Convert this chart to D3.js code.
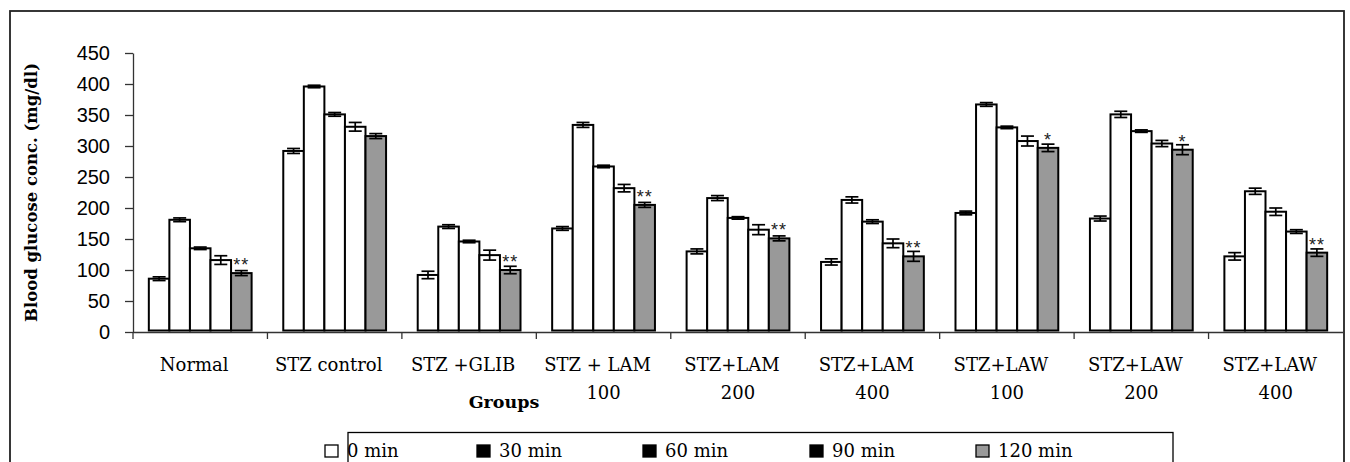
<!DOCTYPE html>
<html>
<head>
<meta charset="utf-8">
<script src="https://cdn.jsdelivr.net/npm/d3@7"></script>
<style>
  body { margin: 0; background: #fff; }
  svg { display: block; }
</style>
</head>
<body>
<script>
// data
const groups = [
  ["Normal"], ["STZ control"], ["STZ +GLIB"],
  ["STZ + LAM", "100"], ["STZ+LAM", "200"], ["STZ+LAM", "400"],
  ["STZ+LAW", "100"], ["STZ+LAW", "200"], ["STZ+LAW", "400"]
];
const series = ["0 min", "30 min", "60 min", "90 min", "120 min"];

const min0   = [86, 292, 92, 167, 130, 113, 192, 183, 122];
const min30  = [181, 396, 170, 334, 216, 213, 367, 351, 227];
const min60  = [135, 351, 146, 267, 184, 178, 330, 324, 194];
const min90  = [116, 331, 124, 232, 165, 143, 308, 304, 162];
const min120 = [95, 316, 100, 205, 151, 122, 297, 294, 128];

const err0   = [3, 4, 6, 3, 4, 5, 3, 4, 6];
const err30  = [3, 2, 3, 4, 4, 5, 3, 5, 5];
const err60  = [2, 3, 2, 2, 2, 3, 2, 2, 6];
const err90  = [7, 7, 8, 6, 8, 7, 8, 5, 3];
const err120 = [4, 4, 6, 4, 4, 8, 6, 8, 6];

const stars = ["**", "", "**", "**", "**", "**", "*", "*", "**"];
const yTicks = [0, 50, 100, 150, 200, 250, 300, 350, 400, 450];

const values = [min0, min30, min60, min90, min120];
const errors = [err0, err30, err60, err90, err120];
const fills = ["#ffffff", "#ffffff", "#ffffff", "#ffffff", "#999999"];
const legendFills = ["#ffffff", "#000000", "#000000", "#000000", "#999999"];

const width = 1350, height = 462;
const margin = { left: 133, right: 7, top: 53, bottom: 130 };

const svg = d3.select("body").append("svg")
  .attr("width", width)
  .attr("height", height);

// outer frame (runs off the bottom)
svg.append("rect")
  .attr("x", 10).attr("y", 11)
  .attr("width", 1334).attr("height", 470)
  .attr("fill", "none").attr("stroke", "#222").attr("stroke-width", 1.8);

const keys = groups.map(g => g.join(" "));
const x = d3.scaleBand()
  .domain(keys)
  .range([margin.left, width - margin.right]);

const xInner = d3.scaleBand()
  .domain(series)
  .range([0, x.bandwidth()])
  .paddingOuter(0.77);

const y = d3.scaleLinear()
  .domain([0, 450])
  .range([height - margin.bottom, margin.top]);

const y0 = y(0);

// bars
const table = [];
series.forEach((s, si) => {
  keys.forEach((k, gi) => {
    table.push({ s, si, k, gi, v: values[si][gi], e: errors[si][gi] });
  });
});

const bars = svg.append("g");
bars.selectAll("rect")
  .data(table)
  .join("rect")
  .attr("x", d => x(d.k) + xInner(d.s))
  .attr("width", xInner.bandwidth())
  .attr("y", d => y(d.v))
  .attr("height", d => y0 - 1.5 - y(d.v))
  .attr("fill", d => fills[d.si])
  .attr("stroke", "#000")
  .attr("stroke-width", 2);

// error bars
const eb = svg.append("g").attr("stroke", "#000").attr("stroke-width", 1.7);
const capW = 6.5;
table.forEach(d => {
  const cx = x(d.k) + xInner(d.s) + xInner.bandwidth() / 2;
  eb.append("line").attr("x1", cx).attr("x2", cx)
    .attr("y1", y(d.v + d.e)).attr("y2", y(d.v - d.e));
  eb.append("line").attr("x1", cx - capW).attr("x2", cx + capW)
    .attr("y1", y(d.v + d.e)).attr("y2", y(d.v + d.e));
  eb.append("line").attr("x1", cx - capW).attr("x2", cx + capW)
    .attr("y1", y(d.v - d.e)).attr("y2", y(d.v - d.e));
});

// significance stars above the 120 min bar
svg.append("g").selectAll("text")
  .data(keys)
  .join("text")
  .attr("x", (k, i) => x(k) + xInner("120 min") + xInner.bandwidth() / 2)
  .attr("y", (k, i) => y(min120[i]) - 2)
  .attr("text-anchor", "middle")
  .attr("font-family", "Liberation Sans, Arial, sans-serif")
  .attr("font-size", 18)
  .attr("letter-spacing", 1)
  .attr("fill", "#222")
  .text((k, i) => stars[i]);

// y axis
const yAxis = svg.append("g")
  .attr("transform", `translate(${margin.left},0)`)
  .call(d3.axisLeft(y).tickValues(yTicks).tickSize(8).tickPadding(15).tickSizeOuter(0));
yAxis.selectAll("path, line").attr("stroke", "#333").attr("stroke-width", 1.3);
yAxis.selectAll("text")
  .attr("font-family", "Liberation Sans, Arial, sans-serif")
  .attr("font-size", 20)
  .attr("fill", "#000");

// x axis line + boundary ticks
const xl = svg.append("g").attr("stroke", "#333").attr("stroke-width", 1.3);
xl.append("line")
  .attr("x1", margin.left).attr("x2", width - margin.right)
  .attr("y1", y0 + 0.5).attr("y2", y0 + 0.5);
keys.forEach(k => {
  xl.append("line")
    .attr("x1", x(k)).attr("x2", x(k))
    .attr("y1", y0).attr("y2", y0 + 7);
});

// category labels
const cat = svg.append("g")
  .attr("font-family", "DejaVu Serif, serif")
  .attr("font-size", 18)
  .attr("fill", "#000")
  .attr("text-anchor", "middle");
groups.forEach((g, i) => {
  const cx = x(keys[i]) + x.bandwidth() / 2;
  g.forEach((line, li) => {
    cat.append("text")
      .attr("x", cx + (li === 0 ? -6 : 0))
      .attr("y", 371 + li * 28)
      .text(line);
  });
});

// axis titles
svg.append("text")
  .attr("x", 504).attr("y", 408)
  .attr("text-anchor", "middle")
  .attr("font-family", "DejaVu Serif, serif")
  .attr("font-weight", "bold")
  .attr("font-size", 17.5)
  .text("Groups");

svg.append("text")
  .attr("transform", `translate(37,${(y(0) + y(450)) / 2}) rotate(-90)`)
  .attr("text-anchor", "middle")
  .attr("font-family", "DejaVu Serif, serif")
  .attr("font-weight", "bold")
  .attr("font-size", 16.5)
  .text("Blood glucose conc. (mg/dl)");

// legend
svg.append("rect")
  .attr("x", 348).attr("y", 432.5)
  .attr("width", 825).attr("height", 60)
  .attr("fill", "none").attr("stroke", "#000").attr("stroke-width", 1.3);

const legendX = [325, 477, 643, 810, 976];
const leg = svg.append("g");
series.forEach((s, i) => {
  leg.append("rect")
    .attr("x", legendX[i]).attr("y", 445)
    .attr("width", 13).attr("height", 12)
    .attr("fill", legendFills[i])
    .attr("stroke", "#000").attr("stroke-width", 1.3);
  leg.append("text")
    .attr("x", legendX[i] + 22).attr("y", 457)
    .attr("font-family", "DejaVu Serif, serif")
    .attr("font-size", 18)
    .text(s);
});
</script>
</body>
</html>
